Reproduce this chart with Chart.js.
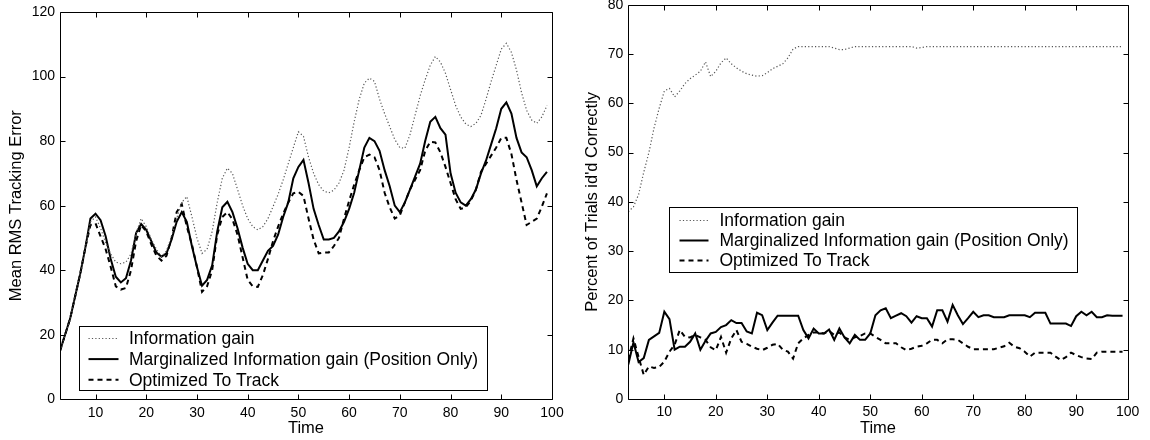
<!DOCTYPE html>
<html>
<head>
<meta charset="utf-8">
<script src="https://cdn.jsdelivr.net/npm/chart.js@4.4.1/dist/chart.umd.min.js"></script>
<style>
  html, body { margin: 0; padding: 0; background: #fff; }
  #wrap { position: relative; width: 1150px; height: 440px; }
  #wrap canvas { position: absolute; top: 0; }
</style>
</head>
<body>
<div id="wrap">
  <canvas id="chartLeft" width="575" height="440" style="left:0"></canvas>
  <canvas id="chartRight" width="575" height="440" style="left:575px"></canvas>
</div>
<script>
// time steps (x values)
const time = [3, 4, 5, 6, 7, 8, 9, 10, 11, 12,
  13, 14, 15, 16, 17, 18, 19, 20, 21, 22,
  23, 24, 25, 26, 27, 28, 29, 30, 31, 32,
  33, 34, 35, 36, 37, 38, 39, 40, 41, 42,
  43, 44, 45, 46, 47, 48, 49, 50, 51, 52,
  53, 54, 55, 56, 57, 58, 59, 60, 61, 62,
  63, 64, 65, 66, 67, 68, 69, 70, 71, 72,
  73, 74, 75, 76, 77, 78, 79, 80, 81, 82,
  83, 84, 85, 86, 87, 88, 89, 90, 91, 92,
  93, 94, 95, 96, 97, 98, 99];

const seriesNames = ['Information gain', 'Marginalized Information gain (Position Only)', 'Optimized To Track'];

// left panel: Mean RMS tracking error
const rmsInfoGain = [15, 20, 25, 32, 39, 47, 55, 56.5, 53, 48.5,
  45, 42.5, 42, 42.5, 45, 51.5, 56, 53.5, 49.5, 46.5,
  44.2, 46, 50.5, 56, 61, 62.8, 56.6, 50, 45.2, 46.5,
  52, 61, 68.5, 71.6, 70, 65, 60, 56, 53.5, 52.5,
  53.5, 56, 59.7, 63.5, 68, 73, 78, 82.9, 81.5, 75,
  70, 66.5, 64.5, 64, 64.8, 67, 71, 78, 86, 93,
  98, 99.5, 98.5, 93, 88.5, 84.5, 80.5, 78, 77.8, 82,
  88, 94, 99, 103.5, 106.2, 104.5, 101, 96, 91, 87.5,
  85.3, 84.5, 85.5, 88, 93, 98.5, 103.5, 108.5, 110.3, 107.5,
  102, 95, 89.5, 86.5, 85.5, 87.5, 91];
const rmsMarginal = [15, 20, 25, 32, 39, 47, 56, 57.5, 55.5, 50.5,
  43.5, 38, 36.2, 37.5, 43, 51.5, 54.3, 52.5, 49, 45.5,
  44.2, 45.2, 49.5, 55, 58, 55, 47.5, 41, 35.2, 37,
  41.5, 52, 59.5, 61.2, 58, 53, 47, 42, 40, 40,
  43, 46, 47.5, 51, 56.5, 61, 68.5, 72, 74.2, 67,
  59, 54, 49.5, 49.5, 50, 52, 55, 59, 64, 71,
  78, 81, 80, 77, 71, 66, 60, 58, 61, 65,
  69, 73, 80, 86, 87.5, 84, 82, 70, 64, 61,
  60, 62, 65, 70, 74, 79, 84, 90, 92, 88.5,
  81, 76.5, 75, 71, 66, 68.5, 70.5];
const rmsOptimized = [15, 20, 25, 32, 39, 47, 54, 54.5, 50.5, 46.5,
  41, 35, 34, 34.5, 40, 49, 54, 52, 48, 44.5,
  43, 44.5, 50, 58, 60.5, 53.5, 48, 41, 33.3, 35,
  40, 51, 56.5, 58, 55.8, 51, 44, 37, 35, 34.8,
  38.5, 43.5, 49, 53.5, 57.5, 61, 63.8, 64.3, 63, 56,
  49.5, 45.2, 45.5, 45.5, 47.5, 50, 56, 61.5, 66.5, 71,
  75, 75.8, 75, 71, 64, 59.5, 56, 57, 61, 65,
  68, 71, 77, 79.8, 79.6, 76.5, 72, 67, 62, 59,
  59.5, 61.5, 65, 70.5, 73, 75.5, 78, 81, 81, 76,
  68, 61, 54, 55, 56, 59.7, 63.8];

// right panel: percent of trials identified correctly
const pctInfoGain = [38, 39, 41.5, 46, 50, 55, 59, 62.5, 63, 61.3,
  62.5, 64, 65, 65.7, 66.5, 68.4, 65.4, 66.5, 68.2, 69.2,
  68, 67.2, 66.5, 66, 65.7, 65.5, 65.6, 66.2, 67, 67.5,
  68, 69.2, 71, 71.5, 71.5, 71.5, 71.5, 71.5, 71.5, 71.5,
  71.2, 70.9, 70.9, 71.2, 71.5, 71.5, 71.5, 71.5, 71.5, 71.5,
  71.5, 71.5, 71.5, 71.5, 71.5, 71.5, 71.2, 71.3, 71.5, 71.5,
  71.5, 71.5, 71.5, 71.5, 71.5, 71.5, 71.5, 71.5, 71.5, 71.5,
  71.5, 71.5, 71.5, 71.5, 71.5, 71.5, 71.5, 71.5, 71.5, 71.5,
  71.5, 71.5, 71.5, 71.5, 71.5, 71.5, 71.5, 71.5, 71.5, 71.5,
  71.5, 71.5, 71.5, 71.5, 71.5, 71.5, 71.5];
const pctMarginal = [7, 11.5, 7.5, 8.3, 12, 12.7, 13.4, 17.7, 16.2, 10,
  10.6, 10.6, 11.6, 13.3, 10, 11.8, 13.3, 13.6, 14.6, 15,
  16, 15.4, 15.4, 13.7, 13.3, 17.5, 17, 14, 15.5, 16.9,
  16.9, 16.9, 16.9, 16.9, 14, 12.3, 14.3, 13.3, 13.3, 14.1,
  12, 14.3, 12.5, 11.3, 13, 12, 12, 13.3, 17, 18,
  18.4, 16.4, 16.9, 17.4, 16.8, 15.5, 16.8, 16.4, 16.4, 14.7,
  18, 18, 15.7, 19.1, 17, 15.2, 16.4, 17.7, 16.6, 17,
  17, 16.6, 16.6, 16.6, 17, 17, 17, 17, 16.6, 17.5,
  17.5, 17.5, 15.3, 15.3, 15.3, 15.3, 14.8, 16.8, 17.7, 17,
  17.7, 16.6, 16.6, 17, 16.9, 16.9, 16.9];
const pctOptimized = [8, 12.3, 8.5, 4.9, 6.6, 6.3, 6.5, 7.6, 9.6, 11,
  14, 12.6, 12.5, 13, 12.5, 12, 10.5, 9.9, 12.6, 9.4,
  12.3, 14, 11.6, 11.2, 10.6, 10.2, 9.9, 10.4, 11, 11.2,
  10, 9.6, 8.2, 11.3, 12.3, 13, 13.5, 13.5, 13.3, 13.8,
  13, 13.5, 12.5, 12, 12.5, 12.8, 13.3, 13.3, 12.6, 12,
  11.3, 11.3, 11.3, 10.5, 9.9, 10.2, 10.6, 10.8, 11.3, 12,
  12, 11.3, 12.1, 12.1, 12, 11.3, 10.6, 10.1, 10.1, 10.1,
  10.1, 10.1, 10.4, 10.7, 11.4, 10.6, 10.3, 9.6, 8.6, 9.4,
  9.4, 9.4, 9.4, 8.6, 7.9, 8.5, 9.4, 8.9, 8.5, 8.2,
  8.1, 9.4, 9.6, 9.6, 9.6, 9.6, 9.6];

const xTicks = [10, 20, 30, 40, 50, 60, 70, 80, 90, 100];
const rmsTicks = [0, 20, 40, 60, 80, 100, 120];
const pctTicks = [0, 10, 20, 30, 40, 50, 60, 70, 80];

const FAMILY = "'Liberation Sans', Arial, Helvetica, sans-serif";
const TICK_FONT = { family: FAMILY, size: 14 };
const TITLE_FONT = { family: FAMILY, size: 16.5 };
const LEGEND_SIZE = 17.5;

// matlab-ish line styles: dotted, solid, dashed
const lineStyles = [
  { color: '#555', width: 1.2, dash: [1.2, 2.2] },
  { color: '#000', width: 2, dash: [] },
  { color: '#000', width: 2, dash: [5, 4] }
];

// box around the axes with inward ticks on all four sides
const framePlugin = {
  id: 'frame',
  afterDatasetsDraw(chart) {
    const { ctx, chartArea: a, scales: { x, y } } = chart;
    const L = Math.round(a.left) + 0.5, R = Math.round(a.right) + 0.5;
    const T = Math.round(a.top) + 0.5, B = Math.round(a.bottom) + 0.5;
    const len = 5;
    ctx.save();
    ctx.strokeStyle = '#000';
    ctx.lineWidth = 1;
    ctx.beginPath();
    ctx.rect(L, T, R - L, B - T);
    x.ticks.forEach(t => {
      const px = Math.round(x.getPixelForValue(t.value)) + 0.5;
      ctx.moveTo(px, B); ctx.lineTo(px, B - len);
      ctx.moveTo(px, T); ctx.lineTo(px, T + len);
    });
    y.ticks.forEach(t => {
      const py = Math.round(y.getPixelForValue(t.value)) + 0.5;
      ctx.moveTo(L, py); ctx.lineTo(L + len, py);
      ctx.moveTo(R, py); ctx.lineTo(R - len, py);
    });
    ctx.stroke();
    ctx.restore();
  }
};

// legend box drawn inside the plot, like the matlab one
const legendPlugin = {
  id: 'legendBox',
  afterDraw(chart, args, opts) {
    const { ctx, chartArea: a } = chart;
    const sets = chart.data.datasets;
    ctx.save();
    ctx.font = LEGEND_SIZE + 'px ' + FAMILY;
    let textW = 0;
    sets.forEach(d => { textW = Math.max(textW, ctx.measureText(d.label).width); });
    const left = Math.round(a.left + opts.dx) + 0.5;
    const top = Math.round(a.top + opts.dy) + 0.5;
    const w = Math.round(opts.textX + textW + opts.padRight);
    const h = opts.height;
    ctx.fillStyle = '#fff';
    ctx.fillRect(left, top, w, h);
    ctx.strokeStyle = '#000';
    ctx.lineWidth = 1;
    ctx.strokeRect(left, top, w, h);
    sets.forEach((d, i) => {
      const yy = top + opts.firstRow + i * opts.rowGap;
      ctx.beginPath();
      ctx.strokeStyle = d.borderColor;
      ctx.lineWidth = d.borderWidth;
      ctx.setLineDash(d.borderDash);
      ctx.moveTo(left + opts.lineX0, yy);
      ctx.lineTo(left + opts.lineX1, yy);
      ctx.stroke();
      ctx.setLineDash([]);
      ctx.fillStyle = '#000';
      ctx.textBaseline = 'middle';
      ctx.fillText(d.label, left + opts.textX, yy + 1);
    });
    ctx.restore();
  }
};

function makeDatasets(values) {
  return values.map((vals, i) => ({
    label: seriesNames[i],
    data: time.map((t, k) => ({ x: t, y: vals[k] })),
    borderColor: lineStyles[i].color,
    borderWidth: lineStyles[i].width,
    borderDash: lineStyles[i].dash,
    pointRadius: 0,
    tension: 0,
    fill: false
  }));
}

function makeChart(id, values, cfg) {
  const ctx = document.getElementById(id).getContext('2d');
  return new Chart(ctx, {
    type: 'line',
    data: { datasets: makeDatasets(values) },
    options: {
      responsive: false,
      animation: false,
      devicePixelRatio: 1,
      layout: { padding: { top: cfg.top, right: cfg.right, left: 0, bottom: 0 } },
      plugins: {
        legend: { display: false },
        tooltip: { enabled: false },
        legendBox: cfg.legend
      },
      scales: {
        x: {
          type: 'linear',
          min: 3,
          max: 100,
          afterBuildTicks: s => { s.ticks = xTicks.map(v => ({ value: v })); },
          afterFit: s => {
            s.height = cfg.xAxisH;
            s.paddingLeft = 0; s.paddingRight = 0;
          },
          grid: { display: false, drawTicks: false },
          border: { display: false },
          ticks: { color: '#000', font: TICK_FONT, padding: 5, maxRotation: 0, autoSkip: false },
          title: { display: true, text: 'Time', color: '#000', font: TITLE_FONT, padding: { top: 0, bottom: 2 } }
        },
        y: {
          type: 'linear',
          min: 0,
          max: cfg.yMax,
          afterBuildTicks: s => { s.ticks = cfg.yTicks.map(v => ({ value: v })); },
          afterFit: s => {
            s.width = cfg.yAxisW;
            s.paddingTop = 0; s.paddingBottom = 0;
          },
          grid: { display: false, drawTicks: false },
          border: { display: false },
          ticks: { color: '#000', font: TICK_FONT, padding: 5, autoSkip: false },
          title: { display: true, text: cfg.yTitle, color: '#000', font: TITLE_FONT, padding: { top: cfg.titlePad, bottom: 0 } }
        }
      }
    },
    plugins: [framePlugin, legendPlugin]
  });
}

makeChart('chartLeft', [rmsInfoGain, rmsMarginal, rmsOptimized], {
  yMax: 120, yTicks: rmsTicks, yTitle: 'Mean RMS Tracking Error',
  top: 12, right: 23, xAxisH: 40.7, yAxisW: 60, titlePad: 7,
  legend: { dx: 19, dy: 314, height: 64, firstRow: 12, rowGap: 20.6, lineX0: 9, lineX1: 39, textX: 49.5, padRight: 9 }
});

makeChart('chartRight', [pctInfoGain, pctMarginal, pctOptimized], {
  yMax: 80, yTicks: pctTicks, yTitle: "Percent of Trials id'd Correctly",
  top: 4.7, right: 22.3, xAxisH: 41, yAxisW: 53.3, titlePad: 7.6,
  legend: { dx: 41, dy: 202, height: 65, firstRow: 13, rowGap: 20, lineX0: 10, lineX1: 39, textX: 50, padRight: 9 }
});
</script>
</body>
</html>
